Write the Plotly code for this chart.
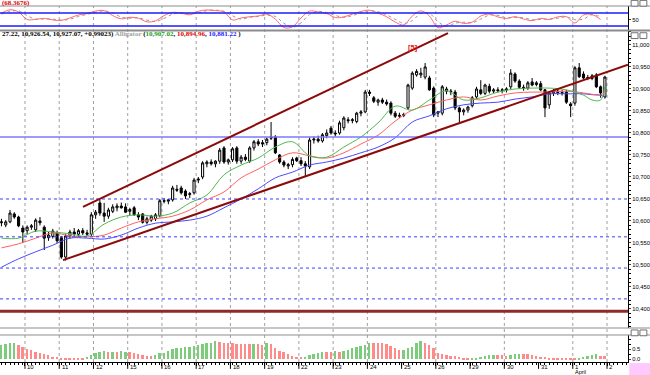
import plotly.graph_objects as go

# ---------------- data ----------------
opens = [10596,10591,10598,10616,10609,10584,10578,10586,10580,10600,
         10586,10562,10565,10573,10562,10518,10566,10575,10570,10578,
         10573,10570,10614,10641,10618,10611,10622,10630,10634,10632,
         10622,10630,10614,10616,10597,10602,10605,10612,10646,10645,
         10648,10672,10675,10668,10660,10664,10693,10700,10730,10734,
         10730,10736,10766,10734,10739,10766,10736,10745,10736,10766,
         10780,10778,10778,10788,10791,10750,10734,10725,10728,10743,
         10737,10730,10723,10784,10786,10782,10794,10811,10800,10800,
         10812,10830,10828,10826,10845,10848,10893,10880,10870,10875,
         10870,10868,10845,10838,10840,10857,10902,10932,10932,10927,
         10925,10902,10845,10845,10895,10893,10893,10857,10848,10852,
         10862,10882,10898,10890,10906,10895,10898,10896,10898,10905,
         10934,10918,10904,10902,10916,10910,10912,10898,10864,10890,
         10895,10892,10893,10866,10868,10948,10934,10925,10924,10932,
         10905,10882]
highs = [10605,10602,10625,10620,10612,10590,10590,10593,10606,10609,
         10590,10575,10582,10578,10566,10570,10580,10584,10582,10584,
         10580,10620,10625,10648,10641,10630,10638,10640,10642,10640,
         10630,10634,10620,10618,10610,10614,10618,10650,10652,10650,
         10680,10682,10680,10672,10666,10698,10700,10736,10738,10740,
         10738,10766,10770,10742,10768,10770,10750,10752,10770,10784,
         10786,10784,10790,10825,10795,10752,10738,10732,10745,10746,
         10745,10736,10790,10792,10794,10800,10808,10816,10806,10828,
         10838,10836,10834,10848,10852,10898,10898,10884,10878,10880,
         10876,10872,10850,10846,10846,10912,10940,10945,10948,10959,
         10930,10906,10850,10909,10905,10900,10898,10860,10856,10862,
         10884,10905,10920,10912,10912,10902,10904,10902,10904,10945,
         10938,10922,10910,10918,10925,10918,10918,10900,10895,10900,
         10900,10898,10898,10870,10952,10959,10940,10932,10934,10936,
         10908,10930]
lows = [10588,10586,10595,10605,10586,10550,10570,10580,10575,10590,
        10534,10555,10560,10550,10514,10510,10560,10566,10564,10568,
        10566,10566,10605,10612,10598,10605,10618,10622,10628,10618,
        10612,10612,10602,10594,10592,10598,10600,10608,10640,10638,
        10644,10666,10660,10650,10652,10660,10686,10695,10722,10726,
        10722,10730,10730,10728,10734,10730,10730,10736,10732,10760,
        10770,10768,10772,10784,10752,10730,10722,10718,10722,10734,
        10725,10700,10718,10776,10778,10778,10788,10796,10792,10796,
        10806,10822,10822,10822,10838,10845,10884,10868,10862,10866,
        10862,10840,10834,10834,10836,10852,10898,10928,10925,10922,
        10896,10836,10836,10840,10888,10886,10852,10825,10840,10846,
        10858,10878,10886,10886,10890,10890,10892,10890,10892,10900,
        10914,10900,10896,10898,10906,10906,10895,10836,10855,10884,
        10886,10885,10866,10836,10862,10925,10922,10920,10920,10902,
        10880,10878]
closes = [10598,10598,10618,10609,10589,10575,10586,10589,10602,10596,
          10561,10568,10577,10555,10518,10566,10575,10570,10578,10573,
          10570,10614,10620,10618,10611,10625,10632,10634,10630,10620,
          10626,10614,10609,10597,10605,10611,10614,10646,10645,10648,
          10675,10670,10664,10657,10662,10693,10695,10732,10734,10730,
          10736,10761,10734,10739,10764,10736,10745,10740,10766,10780,
          10775,10775,10786,10791,10755,10734,10727,10728,10740,10737,
          10730,10725,10784,10786,10782,10796,10800,10800,10798,10823,
          10834,10828,10830,10845,10848,10893,10890,10872,10875,10870,
          10866,10845,10838,10840,10842,10909,10936,10940,10936,10950,
          10898,10841,10848,10905,10900,10895,10857,10848,10852,10859,
          10880,10900,10890,10909,10895,10898,10896,10898,10900,10936,
          10918,10904,10902,10914,10909,10914,10898,10857,10891,10895,
          10892,10890,10870,10862,10948,10928,10925,10926,10930,10905,
          10891,10927]
bar_idx = list(range(len(closes)))

# Alligator lines (sampled)
ma_idx = [0,4,8,12,16,20,24,28,32,36,40,44,48,52,56,60,64,68,72,76,80,84,88,92,
          96,100,104,108,112,116,120,124,128,132,136,138,140,141]
lips = [10561,10561,10577,10575,10571,10566,10593,10609,10614,10611,10618,10641,
        10659,10705,10727,10743,10768,10780,10748,10745,10768,10791,10823,10861,
        10852,10875,10896,10875,10880,10893,10900,10902,10902,10898,10886,10875,
        10875,10907]
teeth = [10539,10548,10561,10573,10566,10564,10568,10584,10598,10605,10611,10625,
         10648,10666,10698,10718,10739,10755,10748,10743,10755,10775,10795,10827,
         10852,10864,10875,10882,10875,10884,10891,10893,10893,10895,10891,10888,
         10886,10895]
jaw = [10495,10514,10530,10545,10561,10561,10559,10568,10584,10595,10598,10602,
       10611,10630,10650,10673,10698,10711,10727,10734,10743,10755,10768,10789,
       10825,10839,10855,10864,10868,10870,10877,10882,10889,10889,10889,10887,
       10886,10881]

# oscillator (top panel), every second bar
osc_idx = list(range(0, 141, 2))
osc_main = [79,95,85,50,51,55,48,46,57,71,77,89,91,68,53,60,56,39,44,68,
            83,79,72,88,94,91,85,48,57,63,66,75,52,13,16,57,89,85,78,59,
            62,75,87,93,79,63,38,25,66,90,66,12,25,42,32,38,66,75,62,55,
            63,52,45,55,50,62,63,34,71,73,50]
osc_signal = [75,87,90,68,51,53,52,47,51,64,74,83,90,80,61,56,58,47,41,55,
              75,81,76,80,91,93,88,67,52,60,64,70,64,33,14,35,73,87,82,69,
              60,68,81,90,86,71,51,32,45,78,78,40,18,33,37,35,52,70,69,58,
              59,58,49,50,53,56,62,49,52,72,62]
osc_levels = [80, 20]

# histogram (bottom panel)
hist_vals = [0.72,0.75,0.80,0.83,0.72,0.63,0.50,0.47,0.38,0.33,
             0.27,0.22,0.13,0.10,0.07,0.05,0.03,0.03,0.03,0.02,
             0.10,0.22,0.30,0.38,0.43,0.38,0.38,0.37,0.40,0.38,
             0.38,0.30,0.27,0.22,0.17,0.17,0.22,0.30,0.33,0.43,
             0.50,0.55,0.55,0.60,0.63,0.67,0.72,0.77,0.80,0.83,
             0.92,0.88,0.83,0.83,0.80,0.77,0.77,0.77,0.77,0.77,
             0.77,0.73,0.80,0.75,0.55,0.43,0.38,0.27,0.17,0.13,
             0.10,0.13,0.22,0.27,0.33,0.38,
             0.38,0.38,0.43,0.38,0.43,0.47,0.55,0.60,0.67,0.72,
             0.80,0.80,0.83,0.80,0.77,0.67,0.55,0.47,0.47,0.55,
             0.63,0.80,0.92,0.83,0.72,0.55,0.30,0.27,0.22,0.17,
             0.17,0.13,0.05,0.03,0.07,0.08,0.13,0.17,0.20,0.20,
             0.20,0.20,0.17,0.20,0.27,0.27,0.27,0.25,0.22,0.17,
             0.13,0.10,0.08,0.05,0.05,0.03,0.03,0.03,0.03,0.07,
             0.10,0.17,0.22,0.27,0.17,0.17]
hist_dir = ("gggg" + "r"*16 + "ggggg" + "rgrgg" + "rrrrrr" + "g"*15 + "r"*8 + "g" + "rr" + "g"
            + "r"*8 + "ggggg" + "rr" + "g" + "r" + "g"*7 + "r"*7 + "g"*5 + "r"*11 + "g"*6
            + "rrr" + "ggg" + "r"*13 + "g"*5 + "rr")

# price levels and trendlines
level_solid = [10791]
level_dotted = [10650, 10564, 10493, 10423]
level_support = [10395]
upper_trend = [(19.05, 10632), (104.34, 11027)]
lower_trend = [(14.38, 10511), (146.4, 10955)]
wave_label = (96.2, 10995, "[5]")

# sessions
day_labels = ["10","11","12","15","16","17","18","19","22","23","24","25","26","29","30","31","1","2"]
day_bounds = [5.5,13.5,21.5,29.5,37.5,45.5,53.5,61.5,69.5,77.5,85.5,93.5,101.5,109.5,117.5,125.5,133.5,141.5]
grid_days = ["10","11","12","15","16","17","18","19","22","23","24","26","30","1","2"]
month_label = ("April", 16)

header_last = "(68.3676)"

# ---------------- figure ----------------
FONT = "Liberation Sans"
fig = go.Figure()

# Alligator lines
for vals, col in [(jaw, "#4a4aff"), (teeth, "#ff6060"), (lips, "#4fb84f")]:
    fig.add_trace(go.Scatter(x=ma_idx, y=vals, mode="lines", yaxis="y2",
                             line=dict(color=col, width=1, shape="spline"),
                             hoverinfo="skip", showlegend=False))

fig.add_trace(go.Candlestick(
    x=bar_idx, open=opens, high=highs, low=lows, close=closes, yaxis="y2",
    increasing=dict(line=dict(color="black", width=1), fillcolor="white"),
    decreasing=dict(line=dict(color="black", width=1), fillcolor="black"),
    whiskerwidth=0, showlegend=False))

# oscillator
fig.add_trace(go.Scatter(x=osc_idx, y=osc_signal, mode="lines", yaxis="y",
                         line=dict(color="#9a9a9a", width=1, dash="dot", shape="spline"),
                         showlegend=False, hoverinfo="skip"))
fig.add_trace(go.Scatter(x=osc_idx, y=osc_main, mode="lines", yaxis="y",
                         line=dict(color="#ff6a6a", width=1, shape="spline"),
                         showlegend=False, hoverinfo="skip"))

# histogram
cmap = {"g": "#7ccc7c", "r": "#ff8a8a"}
fig.add_trace(go.Bar(x=bar_idx, y=hist_vals, yaxis="y3", width=0.45,
                     marker=dict(color=[cmap[c] for c in hist_dir], line=dict(width=0)),
                     showlegend=False, hoverinfo="skip"))

shapes = []
# vertical dotted day grid
for lab, b in zip(day_labels, day_bounds):
    if lab in grid_days:
        shapes.append(dict(type="line", xref="x", yref="paper", x0=b, x1=b, y0=0, y1=0.9834,
                           line=dict(color="#a0a0a0", width=1, dash="dot"), layer="below"))
    # long tick at session start
    shapes.append(dict(type="line", xref="x", yref="paper", x0=b, x1=b, y0=0, y1=-0.019,
                       line=dict(color="black", width=1)))

# price levels
for lv in level_solid:
    shapes.append(dict(type="line", xref="paper", yref="y2", x0=0, x1=1, y0=lv, y1=lv,
                       line=dict(color="#7878ff", width=1.5)))
for lv in level_dotted:
    shapes.append(dict(type="line", xref="paper", yref="y2", x0=0, x1=1, y0=lv, y1=lv,
                       line=dict(color="#3c3cff", width=1, dash="dot")))
for lv in level_support:
    shapes.append(dict(type="line", xref="paper", yref="y2", x0=0, x1=1, y0=lv, y1=lv,
                       line=dict(color="#8e2a2a", width=3)))
for lv in osc_levels:
    shapes.append(dict(type="line", xref="paper", yref="y", x0=0, x1=1, y0=lv, y1=lv,
                       line=dict(color="#1a1aff", width=1.3)))

# trendlines
for (a, b) in [upper_trend, lower_trend]:
    shapes.append(dict(type="line", xref="x", yref="y2", x0=a[0], y0=a[1], x1=b[0], y1=b[1],
                       line=dict(color="#8b0a0a", width=2)))

# panel borders
for py, w in [(0.9834, 1), (0.9157, 2), (0.0939, 1), (0.0746, 1)]:
    shapes.append(dict(type="line", xref="paper", yref="paper", x0=0, x1=1.035, y0=py, y1=py,
                       line=dict(color="#8c8c8c", width=w)))

# pink corner box
shapes.append(dict(type="rect", xref="paper", yref="paper", x0=1.002, x1=1.035, y0=-0.003, y1=-0.036,
                   fillcolor="#ffc8ff", line=dict(width=0)))
# panel window icons
for py in [0.9095, 0.0885, 0.999]:
    for px in [1.005, 1.019]:
        shapes.append(dict(type="rect", xref="paper", yref="paper", x0=px, x1=px + 0.011,
                           y0=py - 0.016, y1=py, fillcolor="white",
                           line=dict(color="#707070", width=1)))

annotations = []
for lab, b in zip(day_labels, day_bounds):
    annotations.append(dict(x=b + 0.3, y=-0.0014, xref="x", yref="paper", text=lab,
                            showarrow=False, xanchor="left", yanchor="top", borderpad=0,
                            font=dict(family=FONT, size=6, color="black")))
annotations.append(dict(x=day_bounds[month_label[1]] + 0.3, y=-0.0385, xref="x", yref="paper",
                        text=month_label[0], showarrow=False, xanchor="left", yanchor="bottom",
                        borderpad=0, font=dict(family=FONT, size=5.5, color="black")))
annotations.append(dict(x=0, y=0.9917, xref="paper", yref="paper", text="<b>" + header_last + "</b>",
                        showarrow=False, xanchor="left", yanchor="middle",
                        font=dict(family="Liberation Sans Narrow", size=7, color="#e00000")))
header = ('<b>27.22, 10,926.54, 10,927.07, +0.99023) <span style="color:#a0a0a0">Alligator</span> '
          '(<span style="color:#1a9a1a">%s</span>, <span style="color:#e00000">%s</span>, '
          '<span style="color:#1a1aff">%s</span> )</b>') % (
    "{:,.2f}".format(10907.02), "{:,.2f}".format(10894.96), "{:,.2f}".format(10881.22))
annotations.append(dict(x=0, y=0.906, xref="paper", yref="paper", text=header,
                        showarrow=False, xanchor="left", yanchor="middle",
                        font=dict(family="Liberation Sans Narrow", size=7, color="black")))
annotations.append(dict(x=wave_label[0], y=wave_label[1], xref="x", yref="y2",
                        text="<b>" + wave_label[2] + "</b>", showarrow=False,
                        font=dict(family=FONT, size=7.5, color="#ee1111")))

axis_font = dict(family=FONT, size=5.8, color="black")
fig.update_layout(
    width=650, height=375,
    margin=dict(l=0, r=22, t=0, b=13),
    paper_bgcolor="white", plot_bgcolor="white",
    showlegend=False, bargap=0,
    xaxis=dict(domain=[0, 1], range=[-0.34, 146.4], anchor="y3",
               showline=True, linecolor="black", linewidth=1, mirror=False,
               tickmode="array", tickvals=day_bounds, ticks="outside", ticklen=3,
               tickcolor="black", showticklabels=False, showgrid=False, zeroline=False,
               minor=dict(tickmode="linear", tick0=0, dtick=1, ticks="outside", ticklen=2,
                          tickcolor="black", showgrid=False),
               rangeslider=dict(visible=False), fixedrange=True),
    yaxis=dict(domain=[0.9171, 0.9834], range=[1.5, 112.3], side="right", anchor="x",
               showline=True, linecolor="black", ticks="outside", ticklen=2,
               tickvals=[50], ticktext=["50"], tickfont=axis_font,
               showgrid=False, zeroline=False),
    yaxis2=dict(domain=[0.0939, 0.9144], range=[10356.8, 11031.8], side="right", anchor="x",
                showline=True, linecolor="black", ticks="outside", ticklen=2,
                tick0=10400, dtick=50, tickformat=",d", tickfont=axis_font,
                minor=dict(dtick=10, ticks="outside", ticklen=2, tickcolor="black"),
                showgrid=False, zeroline=False),
    yaxis3=dict(domain=[0, 0.0746], range=[-0.135, 1.215], side="right", anchor="x",
                showline=True, linecolor="black", ticks="outside", ticklen=2,
                tickvals=[0, 0.5], ticktext=["0.0", "0.5"], tickfont=axis_font,
                minor=dict(dtick=0.25, ticks="outside", ticklen=2, tickcolor="black"),
                showgrid=False, zeroline=False),
    shapes=shapes, annotations=annotations,
)

fig.write_html("out.html", config={"displayModeBar": False},
               post_script="document.body.style.margin='0';document.body.style.overflow='hidden';")
